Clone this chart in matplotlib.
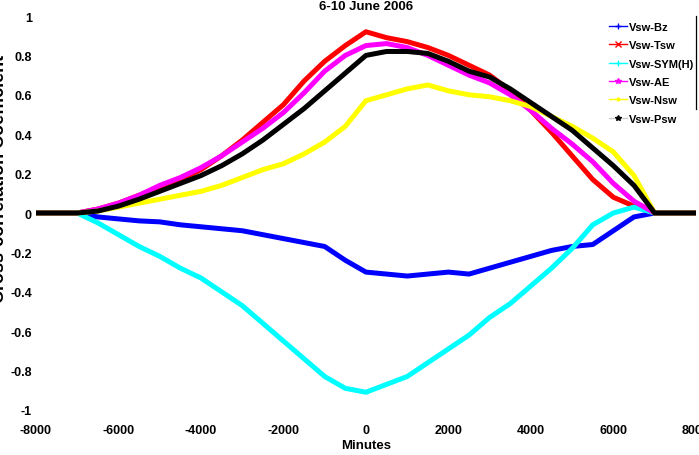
import matplotlib.pyplot as plt
from matplotlib.lines import Line2D

plt.rcParams['font.family'] = ['Liberation Sans Narrow', 'Liberation Sans', 'DejaVu Sans']
plt.rcParams['font.weight'] = 'bold'

# lag in minutes
lag = [-8000, -7500, -7000, -6500, -6000, -5500, -5000, -4500, -4000, -3500, -3000,
       -2500, -2000, -1500, -1000, -500, 0, 500, 1000, 1500, 2000, 2500, 3000,
       3500, 4000, 4500, 5000, 5500, 6000, 6500, 7000, 7500, 8000]

bz = [0, 0, 0, -0.02, -0.03, -0.04, -0.045, -0.06, -0.07, -0.08, -0.09,
      -0.11, -0.13, -0.15, -0.17, -0.24, -0.30, -0.31, -0.32, -0.31, -0.30, -0.31, -0.28,
      -0.25, -0.22, -0.19, -0.17, -0.16, -0.09, -0.02, 0, 0, 0]
tsw = [0, 0, 0, 0.02, 0.05, 0.09, 0.13, 0.17, 0.22, 0.29, 0.37,
       0.46, 0.55, 0.67, 0.77, 0.85, 0.92, 0.89, 0.87, 0.84, 0.80, 0.75, 0.70,
       0.62, 0.52, 0.41, 0.29, 0.17, 0.08, 0.035, 0, 0, 0]
symh = [0, 0, 0, -0.05, -0.11, -0.17, -0.22, -0.28, -0.33, -0.40, -0.47,
        -0.56, -0.65, -0.74, -0.83, -0.89, -0.91, -0.87, -0.83, -0.76, -0.69, -0.62, -0.53,
        -0.46, -0.37, -0.28, -0.18, -0.06, 0.0, 0.03, 0, 0, 0]
ae = [0, 0, 0, 0.02, 0.05, 0.09, 0.14, 0.18, 0.23, 0.29, 0.36,
      0.43, 0.51, 0.61, 0.72, 0.80, 0.85, 0.86, 0.84, 0.80, 0.75, 0.70, 0.66,
      0.60, 0.52, 0.43, 0.35, 0.26, 0.15, 0.06, 0, 0, 0]
nsw = [0, 0, 0, 0.01, 0.03, 0.05, 0.07, 0.09, 0.11, 0.14, 0.18,
       0.22, 0.25, 0.30, 0.36, 0.44, 0.57, 0.60, 0.63, 0.65, 0.62, 0.60, 0.59,
       0.57, 0.54, 0.49, 0.44, 0.38, 0.31, 0.19, 0, 0, 0]
psw = [0, 0, 0, 0.01, 0.035, 0.07, 0.11, 0.15, 0.19, 0.24, 0.30,
       0.37, 0.45, 0.53, 0.62, 0.71, 0.80, 0.82, 0.82, 0.81, 0.77, 0.72, 0.69,
       0.63, 0.56, 0.49, 0.42, 0.33, 0.24, 0.14, 0, 0, 0]

series = [bz, tsw, symh, ae, nsw, psw]
labels = ['Vsw-Bz', 'Vsw-Tsw', 'Vsw-SYM(H)', 'Vsw-AE', 'Vsw-Nsw', 'Vsw-Psw']
colors = ['#0000ff', '#ff0000', '#00ffff', '#ff00ff', '#ffff00', '#000000']
markers = ['+', 'x', '+', '*', '.', '*']

fig = plt.figure(figsize=(6.99, 4.56), dpi=100)
ax = fig.add_axes([0.0515, 0.0987, 0.944, 0.864])

for y, c in zip(series, colors):
    ax.plot(lag, y, color=c, lw=3.6, solid_capstyle='round')

ax.set_xlim(-8000, 8000)
ax.set_ylim(-1, 1)

xt = list(range(-8000, 8001, 2000))
yt = [-1, -0.8, -0.6, -0.4, -0.2, 0, 0.2, 0.4, 0.6, 0.8, 1]
ax.set_xticks(xt)
ax.set_xticklabels([str(v) for v in xt])
ax.set_yticks(yt)
ax.set_yticklabels(['%g' % v for v in yt])
ax.tick_params(axis='both', which='major', length=0, labelsize=9)
ax.tick_params(axis='x', pad=10)
ax.tick_params(axis='y', pad=3)

# the few tick marks that are visible
ax.set_xticks([-6000, -4000, -2000, 0], minor=True)
ax.set_yticks([-0.6, -0.2, 0.2, 0.4, 0.8], minor=True)
ax.tick_params(which='minor', direction='in', length=5, width=0.8, color='#555555',
               top=True, bottom=True, left=True, right=True)

for s in ['left', 'top', 'bottom']:
    ax.spines[s].set_visible(False)
ax.spines['right'].set_bounds(0.53, 1.0)
ax.spines['right'].set_linewidth(0.9)

ax.set_title('6-10 June 2006', fontsize=9.5, fontweight='bold', pad=5)
ax.set_xlabel('Minutes', fontsize=9.5, fontweight='bold', labelpad=2)
ax.set_ylabel('Cross-correlation Coefficient', fontsize=13, fontweight='bold')
ax.yaxis.set_label_coords(-0.043, 0.59)

handles = []
for c, m, lab in zip(colors, markers, labels):
    line_c = '#cccccc' if c == '#000000' else c
    handles.append(Line2D([], [], color=line_c, lw=1, marker=m, markersize=4,
                          markeredgecolor=c, markerfacecolor=c, label=lab))
ax.legend(handles=handles, loc='upper left', bbox_to_anchor=(0.868, 0.985),
          frameon=False, fontsize=8, handlelength=1.6, handletextpad=0.25,
          labelspacing=0.75, borderaxespad=0, borderpad=0)

fig.savefig('out.png', dpi=100)
